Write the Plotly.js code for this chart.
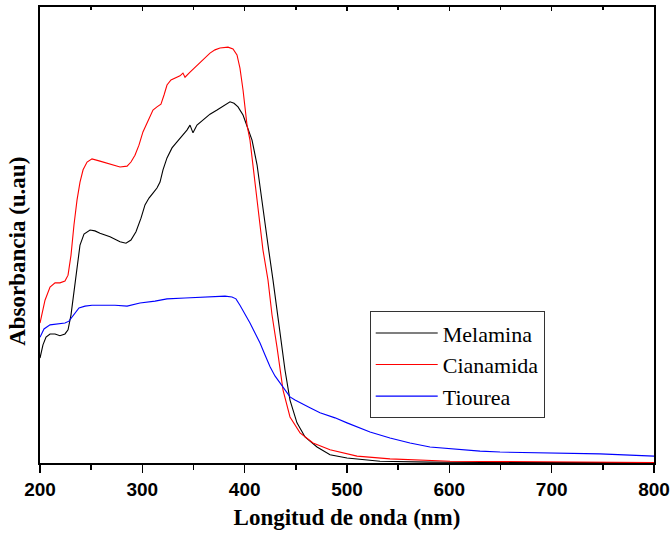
<!DOCTYPE html>
<html>
<head>
<meta charset="utf-8">
<script src="https://cdn.plot.ly/plotly-3.0.1.min.js"></script>
<style>html,body{margin:0;padding:0;background:#fff;}#chart{width:670px;height:533px;}</style>
</head>
<body>
<div id="chart"></div>
<script>
// Wavelength (nm) and absorbance (a.u.)
const melaminaX = [200,202.9,205.9,209.8,214.7,219.5,224.4,227.4,230.3,233.2,236.2,239.1,243.0,248.9,253.7,258.6,268.4,278.2,284.0,288.9,293.8,298.7,302.6,306.5,310.4,314.3,317.3,320.2,324.1,329.0,333.9,338.8,343.6,346.6,349.5,353.4,359.3,366.1,373.0,379.8,385.7,389.6,393.5,398.4,402.3,407.2,412.1,417.9,422.8,427.7,434.5,439.4,444.3,451.1,459.0,470.7,483.4,500.0,532.2,581.1,649.5,800];
const melaminaY = [0.230,0.259,0.276,0.283,0.283,0.279,0.283,0.292,0.325,0.379,0.434,0.478,0.502,0.511,0.509,0.504,0.496,0.485,0.482,0.489,0.507,0.537,0.566,0.581,0.592,0.603,0.616,0.643,0.669,0.691,0.704,0.717,0.730,0.741,0.724,0.741,0.752,0.765,0.774,0.783,0.792,0.789,0.781,0.763,0.739,0.708,0.654,0.555,0.478,0.401,0.292,0.204,0.138,0.088,0.057,0.035,0.018,0.011,0.004,0.002,0.001,0.001];

const cianamidaX = [200,204.9,209.8,214.7,219.5,224.4,227.4,230.3,233.2,236.2,239.1,242.1,246.0,250.8,258.6,265.5,271.3,278.2,285.1,288.9,292.8,296.7,300.6,305.5,310.4,314.3,318.2,321.2,324.1,328.0,332.9,336.8,339.7,341.7,346.6,351.5,356.4,361.2,366.1,371.0,375.9,383.7,388.6,392.5,395.4,398.4,402.3,405.2,412.1,417.9,422.8,426.7,431.6,437.5,444.3,454.1,466.8,483.4,509.8,542.0,600.7,698.4,800];
const cianamidaY = [0.307,0.357,0.386,0.395,0.395,0.399,0.412,0.456,0.522,0.577,0.616,0.643,0.660,0.667,0.662,0.658,0.654,0.649,0.651,0.660,0.675,0.697,0.726,0.752,0.774,0.781,0.787,0.807,0.829,0.840,0.846,0.849,0.855,0.846,0.857,0.868,0.879,0.890,0.899,0.906,0.910,0.912,0.908,0.895,0.866,0.818,0.741,0.708,0.577,0.467,0.401,0.325,0.254,0.160,0.101,0.066,0.044,0.029,0.015,0.009,0.004,0.002,0.001];

const tioureaX = [200,203.9,209.8,216.6,224.4,228.3,231.3,234.2,238.1,244.0,250.8,258.6,273.3,285.1,297.7,312.4,324.1,341.7,356.4,371.0,380.8,387.6,391.5,395.4,400.3,405.2,410.1,415.0,419.9,424.8,429.6,434.5,439.4,444.3,449.2,454.1,463.8,473.6,488.3,500.0,512.7,522.5,542.0,561.6,581.1,600.7,630.0,649.5,698.4,747.2,800];
const tioureaY = [0.276,0.294,0.303,0.305,0.307,0.311,0.320,0.331,0.340,0.344,0.346,0.346,0.346,0.344,0.351,0.355,0.360,0.362,0.364,0.366,0.366,0.364,0.360,0.346,0.327,0.307,0.285,0.263,0.237,0.211,0.191,0.175,0.160,0.145,0.138,0.132,0.121,0.110,0.099,0.088,0.077,0.068,0.055,0.044,0.035,0.031,0.026,0.024,0.022,0.020,0.015];

const seriesNames = ['Melamina','Cianamida','Tiourea'];
const seriesColors = ['#000000','#ff0000','#0000ff'];
const xTicks = [200,300,400,500,600,700,800];
const yTitle = 'Absorbancia (u.au)';

const traces = [
  {x: melaminaX, y: melaminaY},
  {x: cianamidaX, y: cianamidaY},
  {x: tioureaX, y: tioureaY}
].map((t,i)=>({
  x: t.x, y: t.y, type: 'scatter', mode: 'lines', name: seriesNames[i],
  line: {color: seriesColors[i], width: 1.1}
}));
// invisible trace to carry the top axis with inward ticks
traces.push({x:[200,800], y:[0,0], xaxis:'x2', yaxis:'y', mode:'lines', line:{width:0}, showlegend:false, hoverinfo:'skip'});

const serifBold = {family: 'Liberation Serif, Times New Roman, serif', size: 23, color: '#000', weight: 'bold'};

const layout = {
  width: 670, height: 533,
  margin: {l: 40, r: 16, t: 7, b: 70},
  paper_bgcolor: '#fff', plot_bgcolor: '#fff',
  showlegend: true,
  legend: {
    x: 0.537, y: 0.333, xanchor: 'left', yanchor: 'top',
    bgcolor: '#fff', bordercolor: '#333', borderwidth: 1,
    font: {family: 'Liberation Serif, Times New Roman, serif', size: 22, color: '#000'},
    tracegroupgap: 0, itemwidth: 62
  },
  xaxis: {
    range: [200, 800], tickvals: xTicks, ticktext: xTicks.map(String),
    ticks: 'outside', ticklen: 8, tickwidth: 1.5, tickcolor: '#000',
    minor: {dtick: 50, ticks: 'outside', ticklen: 5, tickwidth: 1.5, tickcolor: '#000'},
    showline: true, linecolor: '#000', linewidth: 2, showgrid: false, zeroline: false,
    tickfont: {family: 'Liberation Sans, Arial, sans-serif', size: 19, color: '#000', weight: 'bold'},
    title: {text: 'Longitud de onda (nm)', standoff: 10, font: serifBold}
  },
  xaxis2: {
    range: [200, 800], overlaying: 'x', side: 'top', anchor: 'y',
    tickvals: xTicks, showticklabels: false,
    ticks: 'inside', ticklen: 4, tickwidth: 1.5, tickcolor: '#000',
    minor: {dtick: 50, ticks: 'inside', ticklen: 3, tickwidth: 1.5, tickcolor: '#000'},
    showline: true, linecolor: '#000', linewidth: 2, showgrid: false, zeroline: false
  },
  yaxis: {
    range: [0, 1], showticklabels: false, ticks: '',
    showline: true, linecolor: '#000', linewidth: 2, mirror: true,
    showgrid: false, zeroline: false
  },
  annotations: [{
    text: yTitle, xref: 'paper', yref: 'paper', x: -0.036, y: 0.465,
    xanchor: 'center', yanchor: 'middle', textangle: -90, showarrow: false,
    font: serifBold
  }]
};

Plotly.newPlot('chart', traces, layout, {staticPlot: true, displayModeBar: false});
</script>
</body>
</html>
